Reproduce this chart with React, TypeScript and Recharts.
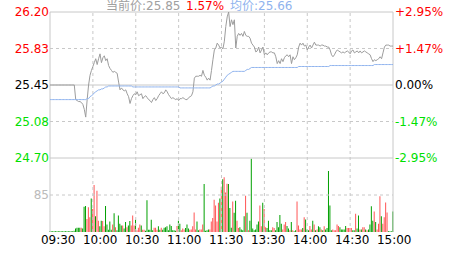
import {
  Bar,
  Cell,
  ComposedChart,
  Line,
  ReferenceLine,
  XAxis,
  YAxis,
} from 'recharts';

/* ─────────────── data (one value per minute, 09:30 … 15:00) ─────────────── */

const prevClose = 25.45;

const priceSeries = [
  25.45, 25.45, 25.45, 25.45, 25.45, 25.45, 25.45, 25.45, 25.45, 25.45,
  25.45, 25.45, 25.45, 25.45, 25.45, 25.45, 25.45, 25.45, 25.30, 25.29,
  25.28, 25.28, 25.27, 25.25, 25.20, 25.12, 25.30, 25.45, 25.55, 25.60,
  25.64, 25.68, 25.72, 25.66, 25.72, 25.77, 25.68, 25.73, 25.75, 25.70,
  25.72, 25.65, 25.62, 25.60, 25.58, 25.59, 25.58, 25.57, 25.48, 25.40,
  25.42, 25.40, 25.39, 25.40, 25.36, 25.33, 25.26, 25.31, 25.34, 25.36,
  25.35, 25.38, 25.34, 25.35, 25.36, 25.31, 25.33, 25.34, 25.32, 25.30,
  25.29, 25.27, 25.30, 25.32, 25.29, 25.31, 25.34, 25.36, 25.38, 25.36,
  25.37, 25.40, 25.38, 25.35, 25.33, 25.31, 25.32, 25.31, 25.30, 25.31,
  25.29, 25.31, 25.31, 25.32, 25.31, 25.30, 25.30, 25.32, 25.33, 25.34,
  25.38, 25.52, 25.54, 25.54, 25.54, 25.55, 25.54, 25.60, 25.55, 25.53,
  25.50, 25.52, 25.50, 25.60, 25.71, 25.81, 25.83, 25.88, 25.86, 25.83,
  25.84, 25.82, 25.90, 26.05, 26.15, 26.20, 26.05, 26.12, 26.07, 26.12,
  25.83, 25.95, 25.98, 25.96, 25.98, 25.95, 26.00, 25.96, 25.95, 25.95,
  25.93, 25.88, 25.86, 25.84, 25.79, 25.80, 25.84, 25.78, 25.81, 25.84,
  25.76, 25.78, 25.76, 25.78, 25.79, 25.79, 25.78, 25.78, 25.74, 25.67,
  25.70, 25.67, 25.72, 25.69, 25.73, 25.75, 25.76, 25.74, 25.76, 25.67,
  25.74, 25.71, 25.73, 25.76, 25.84, 25.88, 25.86, 25.88, 25.85, 25.86,
  25.81, 25.84, 25.86, 25.83, 25.86, 25.89, 25.86, 25.86, 25.86, 25.85,
  25.86, 25.86, 25.85, 25.85, 25.84, 25.84, 25.81, 25.76, 25.74, 25.76,
  25.79, 25.81, 25.80, 25.79, 25.78, 25.79, 25.78, 25.79, 25.80, 25.79,
  25.77, 25.80, 25.81, 25.78, 25.79, 25.80, 25.78, 25.80, 25.78, 25.79,
  25.80, 25.79, 25.78, 25.77, 25.76, 25.72, 25.69, 25.71, 25.70, 25.71,
  25.72, 25.74, 25.72, 25.78, 25.84, 25.86, 25.86, 25.86, 25.85, 25.85,
  25.85,
];

const avgSeries = [
  25.30, 25.30, 25.30, 25.30, 25.30, 25.30, 25.30, 25.30, 25.30, 25.30,
  25.30, 25.30, 25.30, 25.30, 25.30, 25.30, 25.30, 25.30, 25.30, 25.30,
  25.30, 25.30, 25.30, 25.30, 25.30, 25.30, 25.31, 25.31, 25.33, 25.34,
  25.35, 25.37, 25.38, 25.39, 25.40, 25.40, 25.41, 25.41, 25.42, 25.43,
  25.43, 25.44, 25.44, 25.44, 25.44, 25.44, 25.44, 25.44, 25.44, 25.44,
  25.44, 25.44, 25.44, 25.44, 25.44, 25.44, 25.44, 25.44, 25.43, 25.43,
  25.43, 25.43, 25.43, 25.43, 25.43, 25.43, 25.43, 25.43, 25.43, 25.43,
  25.43, 25.43, 25.43, 25.43, 25.43, 25.43, 25.43, 25.43, 25.43, 25.43,
  25.43, 25.43, 25.43, 25.43, 25.43, 25.43, 25.43, 25.43, 25.43, 25.43,
  25.43, 25.42, 25.42, 25.42, 25.42, 25.42, 25.42, 25.42, 25.42, 25.42,
  25.42, 25.42, 25.42, 25.42, 25.42, 25.42, 25.42, 25.42, 25.42, 25.42,
  25.42, 25.42, 25.42, 25.43, 25.44, 25.44, 25.45, 25.46, 25.46, 25.47,
  25.48, 25.49, 25.51, 25.53, 25.55, 25.56, 25.57, 25.58, 25.59, 25.59,
  25.59, 25.59, 25.59, 25.59, 25.59, 25.59, 25.59, 25.60, 25.61, 25.61,
  25.62, 25.63, 25.63, 25.63, 25.63, 25.63, 25.63, 25.63, 25.63, 25.63,
  25.63, 25.63, 25.63, 25.63, 25.63, 25.63, 25.63, 25.63, 25.63, 25.63,
  25.63, 25.63, 25.63, 25.63, 25.63, 25.63, 25.63, 25.63, 25.63, 25.63,
  25.63, 25.63, 25.63, 25.63, 25.64, 25.64, 25.64, 25.64, 25.64, 25.64,
  25.64, 25.64, 25.64, 25.64, 25.64, 25.64, 25.64, 25.64, 25.64, 25.64,
  25.64, 25.64, 25.64, 25.64, 25.64, 25.64, 25.65, 25.65, 25.65, 25.65,
  25.65, 25.65, 25.65, 25.65, 25.65, 25.65, 25.65, 25.65, 25.65, 25.65,
  25.65, 25.65, 25.65, 25.65, 25.65, 25.65, 25.65, 25.65, 25.65, 25.65,
  25.65, 25.65, 25.65, 25.65, 25.65, 25.65, 25.65, 25.66, 25.66, 25.66,
  25.66, 25.66, 25.66, 25.66, 25.66, 25.66, 25.66, 25.66, 25.66, 25.66,
  25.66,
];

const volumeSeries = [
  2, 2, 2, 2, 2, 2, 2, 2, 2, 2,
  2, 2, 2, 2, 2, 2, 2, 3, 8, 10,
  10, 10, 10, 8, 58, 60, 30, 57, 34, 77,
  53, 108, 36, 95, 26, 13, 26, 25, 13, 60,
  17, 5, 24, 5, 17, 43, 11, 4, 38, 19,
  15, 15, 8, 23, 11, 15, 25, 15, 38, 15,
  28, 4, 10, 17, 15, 5, 5, 3, 73, 5,
  5, 28, 4, 10, 10, 5, 13, 5, 10, 5,
  10, 11, 13, 4, 17, 14, 4, 4, 3, 14,
  26, 19, 4, 8, 6, 9, 17, 8, 5, 6,
  13, 45, 6, 24, 4, 6, 6, 17, 110, 3,
  4, 6, 6, 24, 32, 74, 61, 24, 67, 77,
  104, 121, 126, 91, 111, 110, 55, 10, 70, 44,
  72, 26, 9, 11, 6, 4, 36, 83, 44, 4,
  26, 168, 8, 4, 6, 17, 24, 61, 13, 67,
  53, 11, 9, 26, 4, 4, 11, 9, 4, 23,
  11, 39, 19, 6, 17, 23, 14, 8, 4, 23,
  4, 2, 4, 70, 15, 6, 6, 9, 34, 29,
  6, 4, 14, 6, 26, 17, 4, 6, 13, 11,
  6, 4, 13, 6, 9, 140, 61, 4, 6, 4,
  4, 17, 14, 11, 6, 6, 6, 14, 9, 9,
  9, 9, 4, 4, 42, 8, 38, 6, 6, 11,
  11, 6, 4, 6, 17, 59, 26, 47, 23, 6,
  19, 82, 36, 19, 34, 68, 45, 2, 2, 2,
  47,
];

// u = volume on an up tick, d = volume on a down tick
const volumeDir = (
  'dddddddddd' + 'dddddddddd' + 'dduddduuud' + 'uuduudduud' + 'ddddududdd' +
  'duddudduuu' + 'duuuduuddd' + 'ddduuuddud' + 'dddddddddu' + 'dduuuddduu' +
  'uuudduuudd' + 'dduuuuuuud' + 'uduuudddud' + 'duuddddudu' + 'ddddddduud' +
  'uudddduudd' + 'ddduuuddud' + 'udduuuudud' + 'dduudududd' + 'ududdddduu' +
  'uuuddddduu' + 'uudduddudu' + 'ududdddudu' + 'uuduuuuddd' + 'd'
).split('');

const timeTicks = [0, 30, 60, 90, 120, 150, 180, 210, 240];
const timeLabels = ['09:30', '10:00', '10:30', '11:00', '11:30', '13:30', '14:00', '14:30', '15:00'];

const priceTicks = [24.7, 25.075, 25.45, 25.825, 26.2];
const priceTickLabels = ['24.70', '25.08', '25.45', '25.83', '26.20'];
const pctTickLabels = ['-2.95%', '-1.47%', '0.00%', '+1.47%', '+2.95%'];
const volumeTick = 85;

/* ─────────────── layout ─────────────── */

const FONT = '"DejaVu Sans", "Noto Sans CJK SC", sans-serif';
const RED = '#ff0000';
const GREEN = '#00e000';
const GRID = '#c8c8c8';

// price panel is 146px tall, volume panel 74px, plotted in one 220px area
const PRICE_TOP = 26.2;
const PRICE_BOTTOM = 24.7;
const priceDomain = [PRICE_TOP - ((PRICE_TOP - PRICE_BOTTOM) * 220) / 146, PRICE_TOP];
const volDomain = [0, (170 * 220) / 74];

const data = priceSeries.map((price, i) => ({
  i,
  price,
  avg: avgSeries[i],
  vol: volumeSeries[i],
  up: volumeDir[i] === 'u',
}));

function tickColor(v: number) {
  if (Math.abs(v - prevClose) < 0.001) return '#000';
  return v > prevClose ? RED : GREEN;
}

function PriceTick({ x, y, payload, index }: any) {
  return (
    <text x={x} y={y} dy="0.355em" textAnchor="end" fontSize={12} fontFamily={FONT} fill={tickColor(payload.value)}>
      {priceTickLabels[index]}
    </text>
  );
}

function PctTick({ x, y, payload, index }: any) {
  return (
    <text x={x} y={y} dy="0.355em" textAnchor="start" fontSize={12} fontFamily={FONT} fill={tickColor(payload.value)}>
      {pctTickLabels[index]}
    </text>
  );
}

function TimeTick({ x, y, index }: any) {
  // labels are spread slightly narrower than the grid
  const shift = 8.2 - index * 0.875;
  return (
    <text x={x + shift} y={y + 12} textAnchor="middle" fontSize={12} fontFamily={FONT} fill="#000">
      {timeLabels[index]}
    </text>
  );
}

export default function App() {
  const last = priceSeries[priceSeries.length - 1];
  const lastAvg = avgSeries[avgSeries.length - 1];
  const pct = ((last / prevClose - 1) * 100).toFixed(2);

  return (
    <div style={{ position: 'relative', width: 463, height: 255, background: '#fff' }}>
      <style>{'body{margin:0}'}</style>
      <ComposedChart width={463} height={255} data={data} margin={{ top: 12, right: 0, bottom: 0, left: 0 }}>
        <XAxis
          dataKey="i"
          type="number"
          domain={[0, 240]}
          ticks={timeTicks}
          interval={0}
          height={23}
          axisLine={false}
          tickLine={false}
          tickSize={0}
          tickMargin={0}
          tick={<TimeTick />}
        />
        <YAxis
          yAxisId="price"
          domain={priceDomain}
          allowDataOverflow
          ticks={priceTicks}
          interval={0}
          width={50}
          axisLine={false}
          tickLine={false}
          tickSize={0}
          tickMargin={1}
          tick={<PriceTick />}
        />
        <YAxis
          yAxisId="pct"
          orientation="right"
          domain={priceDomain}
          allowDataOverflow
          ticks={priceTicks}
          interval={0}
          width={70}
          axisLine={false}
          tickLine={false}
          tickSize={0}
          tickMargin={2}
          tick={<PctTick />}
        />
        <YAxis yAxisId="vol" hide domain={volDomain} allowDataOverflow />

        {/* grid */}
        {priceTicks.map((t, k) => (
          <ReferenceLine
            key={`h${t}`}
            yAxisId="price"
            y={t}
            stroke={GRID}
            strokeDasharray={k % 2 === 1 ? '3 3' : undefined}
          />
        ))}
        <ReferenceLine
          yAxisId="vol"
          y={volumeTick}
          stroke={GRID}
          strokeDasharray="3 3"
          label={{ value: String(volumeTick), position: 'left', offset: 1, fill: '#bbbbbb', fontSize: 12, fontFamily: FONT }}
        />
        {timeTicks.map((t) => (
          <ReferenceLine
            key={`v${t}`}
            yAxisId="price"
            x={t}
            stroke={GRID}
            strokeDasharray={t === 0 || t === 240 ? undefined : '3 3'}
          />
        ))}

        <Bar yAxisId="vol" dataKey="vol" barSize={1} isAnimationActive={false}>
          {data.map((d) => (
            <Cell key={d.i} fill={d.up ? '#ff5555' : '#00a000'} />
          ))}
        </Bar>
        <Line
          yAxisId="price"
          dataKey="price"
          type="linear"
          stroke="#9c9c9c"
          strokeWidth={1}
          dot={false}
          isAnimationActive={false}
        />
        <Line
          yAxisId="price"
          dataKey="avg"
          type="linear"
          stroke="#8fb3ee"
          strokeWidth={1}
          dot={false}
          isAnimationActive={false}
        />
      </ComposedChart>
      <svg width={463} height={14} style={{ position: 'absolute', left: 0, top: 0 }}>
        <text y={9.5} fontSize={12} fontFamily={FONT}>
          <tspan x={106} fill="#a0a0a0">{`当前价:${last.toFixed(2)}`}</tspan>
          <tspan x={186} fill={RED}>{`${pct}%`}</tspan>
          <tspan x={230} fill="#8fb3ee">{`均价:${lastAvg.toFixed(2)}`}</tspan>
        </text>
      </svg>
    </div>
  );
}
